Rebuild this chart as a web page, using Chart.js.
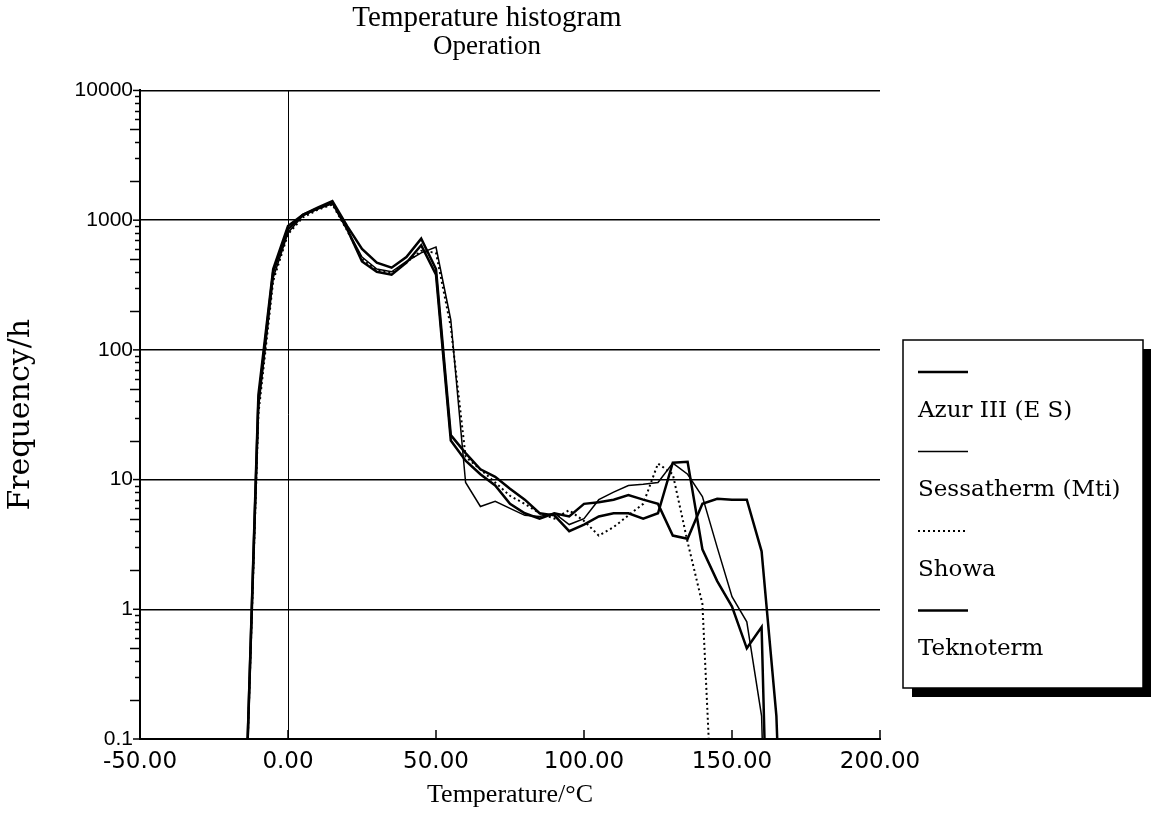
<!DOCTYPE html>
<html>
<head>
<meta charset="utf-8">
<script src="https://cdn.jsdelivr.net/npm/chart.js@4.4.1/dist/chart.umd.min.js"></script>
<style>
html, body { margin: 0; padding: 0; background: #fff; }
#wrap { width: 1151px; height: 820px; }
</style>
</head>
<body>
<div id="wrap"><canvas id="chart"></canvas></div>
<script>
// temperature bins (°C) and hours per bin
const temps = [-15, -10, -5, 0, 5, 10, 15, 20, 25, 30, 35, 40, 45, 50, 55, 60, 65, 70, 75, 80,
               85, 90, 95, 100, 105, 110, 115, 120, 125, 130, 135, 140, 145, 150, 155, 160, 165, 170];

const azur = [0.01, 40, 400, 850, 1100, 1250, 1400, 900, 600, 470, 430, 520, 720, 420, 22, 16, 12, 10.5, 8.5, 7,
              5.5, 5.3, 4, 4.5, 5.2, 5.5, 5.5, 5, 5.5, 13.5, 13.7, 2.9, 1.65, 1.05, 0.5, 0.73, 0.00003, null];
const sessatherm = [0.01, 35, 360, 800, 1080, 1220, 1340, 850, 520, 420, 400, 480, 560, 620, 170, 9.5, 6.2, 6.8, 6, 5.3,
                    5.2, 5.5, 4.5, 5, 7, 8, 9, 9.2, 9.5, 13.4, 11, 7.4, 3.0, 1.25, 0.8, 0.15, 0.00001, null];
const showa = [0.01, 32, 340, 780, 1050, 1200, 1320, 830, 500, 410, 390, 470, 580, 560, 150, 15, 12, 9.5, 7.5, 6.5,
               5.5, 5, 5.8, 4.8, 3.7, 4.3, 5.3, 6.5, 13.3, 11, 3.3, 1.1, 0.004, null, null, null, null, null];
const teknoterm = [0.01, 45, 420, 900, 1100, 1230, 1370, 850, 480, 400, 380, 470, 640, 380, 20, 14, 11, 9, 6.5, 5.5,
                   5.0, 5.5, 5.2, 6.5, 6.7, 7, 7.6, 7, 6.5, 3.7, 3.5, 6.5, 7.1, 7.0, 7.0, 2.8, 0.15, 0.0001];

const xTickVals = [-50, 0, 50, 100, 150, 200];
const xTickLabels = ['-50.00', '0.00', '50.00', '100.00', '150.00', '200.00'];
const yTickVals = [0.1, 1, 10, 100, 1000, 10000];
const yTickLabels = ['0.1', '1', '10', '100', '1000', '10000'];

function pts(arr) {
    return temps.map((t, i) => ({ x: t, y: arr[i] }));
}

// short tick marks like the original plotter output
const axisTicks = {
    id: 'axisTicks',
    afterDraw(chart) {
        const { ctx, chartArea: a, scales: { x, y } } = chart;
        ctx.save();
        ctx.strokeStyle = '#000';
        ctx.lineWidth = 1.5;
        yTickVals.slice(0, -1).forEach(d => {
            for (let k = 2; k <= 9; k++) {
                const py = Math.round(y.getPixelForValue(d * k)) + 0.5;
                const len = (k === 2 || k === 5) ? 10 : 5;
                ctx.beginPath();
                ctx.moveTo(a.left - len, py);
                ctx.lineTo(a.left, py);
                ctx.stroke();
            }
        });
        yTickVals.forEach(v => {
            const py = y.getPixelForValue(v);
            ctx.beginPath();
            ctx.moveTo(a.left - 7, py);
            ctx.lineTo(a.left, py);
            ctx.stroke();
        });
        xTickVals.forEach(v => {
            const px = x.getPixelForValue(v);
            ctx.beginPath();
            ctx.moveTo(px, a.bottom);
            ctx.lineTo(px, a.bottom - 9);
            ctx.stroke();
        });
        ctx.restore();
    }
};

// boxed legend with shadow: sample line above each name
const legendBox = {
    id: 'legendBox',
    afterDraw(chart) {
        const ctx = chart.ctx;
        const x0 = chart.chartArea.right + 23, y0 = 340, w = 240, h = 348;
        ctx.save();
        ctx.fillStyle = '#000';
        ctx.fillRect(x0 + 9, y0 + h, w, 9);
        ctx.fillRect(x0 + w, y0 + 9, 9, h);
        ctx.fillStyle = '#fff';
        ctx.fillRect(x0, y0, w, h);
        ctx.strokeStyle = '#000';
        ctx.lineWidth = 1.5;
        ctx.strokeRect(x0, y0, w, h);
        chart.data.datasets.forEach((ds, i) => {
            const y = y0 + 32 + i * 79.5;
            ctx.beginPath();
            ctx.setLineDash(ds.borderDash || []);
            ctx.lineWidth = ds.borderWidth;
            ctx.moveTo(x0 + 15, y);
            ctx.lineTo(x0 + 65, y);
            ctx.stroke();
            ctx.setLineDash([]);
            ctx.fillStyle = '#000';
            ctx.font = '23px "DejaVu Serif"';
            ctx.textBaseline = 'middle';
            ctx.textAlign = 'left';
            ctx.fillText(ds.label, x0 + 15, y + 39);
        });
        ctx.restore();
    }
};

const div = document.getElementById('chart');
const config = {
    type: 'line',
    data: {
        datasets: [
            { label: 'Azur III (E S)', data: pts(azur), borderColor: '#000', borderWidth: 2.5 },
            { label: 'Sessatherm (Mti)', data: pts(sessatherm), borderColor: '#000', borderWidth: 1.5 },
            { label: 'Showa', data: pts(showa), borderColor: '#000', borderWidth: 2, borderDash: [2, 3] },
            { label: 'Teknoterm', data: pts(teknoterm), borderColor: '#000', borderWidth: 2.5 },
        ]
    },
    options: {
        responsive: true,
        maintainAspectRatio: false,
        animation: false,
        elements: { point: { radius: 0 }, line: { tension: 0 } },
        layout: { padding: { left: 0, right: 177, top: 0, bottom: 0 } },
        plugins: {
            legend: { display: false },
            tooltip: { enabled: false },
            title: {
                display: true,
                text: 'Temperature histogram',
                color: '#000',
                font: { family: 'Liberation Serif', size: 29, weight: 'normal', lineHeight: 1.05 },
                padding: { top: 3, bottom: 0 }
            },
            subtitle: {
                display: true,
                text: 'Operation',
                color: '#000',
                font: { family: 'Liberation Serif', size: 27, weight: 'normal', lineHeight: 1.0 },
                padding: { top: 0, bottom: 30 }
            }
        },
        scales: {
            x: {
                type: 'linear',
                min: -50,
                max: 200,
                afterBuildTicks: s => { s.ticks = xTickVals.map(v => ({ value: v })); },
                afterFit: s => { s.height = 81; },
                ticks: {
                    callback: (v, i) => xTickLabels[i],
                    color: '#000',
                    font: { family: 'DejaVu Sans', size: 23 },
                    padding: 9,
                    maxRotation: 0,
                    autoSkip: false
                },
                grid: {
                    drawTicks: false,
                    color: c => (c.tick && c.tick.value === 0) ? '#000' : 'rgba(0,0,0,0)',
                    lineWidth: 1
                },
                border: { color: '#000', width: 2 },
                title: {
                    display: true,
                    text: 'Temperature/°C',
                    color: '#000',
                    font: { family: 'Liberation Serif', size: 26 },
                    padding: { top: 0, bottom: 9 }
                }
            },
            y: {
                type: 'logarithmic',
                min: 0.1,
                max: 10000,
                afterBuildTicks: s => { s.ticks = yTickVals.map(v => ({ value: v })); },
                afterFit: s => { s.width = 140; },
                ticks: {
                    callback: (v, i) => yTickLabels[i],
                    color: '#000',
                    font: { family: 'Liberation Sans', size: 21 },
                    padding: 7
                },
                grid: { drawTicks: false, color: '#000', lineWidth: 1.5 },
                border: { color: '#000', width: 2 },
                title: {
                    display: true,
                    text: 'Frequency/h',
                    color: '#000',
                    font: { family: 'DejaVu Serif', size: 30 },
                    padding: { top: 3, bottom: 0 }
                }
            },
            // empty space on the right of the plot, where the legend box sits
            yR: {
                position: 'right',
                grid: { display: false },
                border: { display: false },
                ticks: { display: false },
                afterFit: s => { s.width = 94; }
            }
        }
    },
    plugins: [axisTicks, legendBox]
};

new Chart(div, config);
</script>
</body>
</html>
